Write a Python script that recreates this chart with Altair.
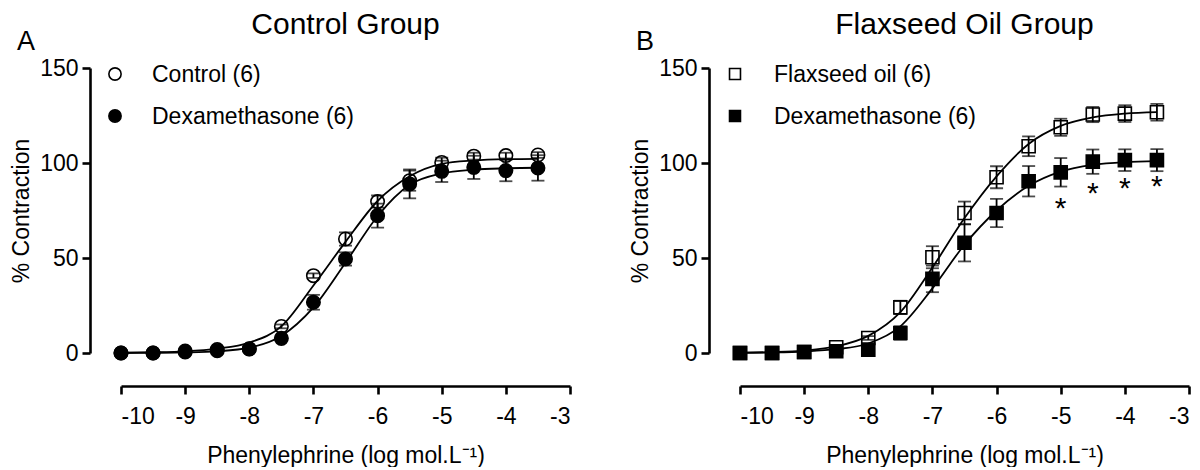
import altair as alt
import pandas as pd

FONT = "Liberation Sans"

# ---------------- data ----------------
x_dose = [-10, -9.5, -9, -8.5, -8, -7.5, -7, -6.5, -6, -5.5, -5, -4.5, -4, -3.5]

# Panel A - Control group
names_a = ["Control (6)", "Dexamethasone (6)"]
ctrl_mean = [0, 0, 1.0, 1.8, 2.2, 14.0, 40.7, 60.0, 79.7, 90.7, 100.3, 103.6, 103.9, 104.2]
ctrl_sem = [0, 0, 0, 0, 0, 1.0, 1.2, 3.5, 3.2, 5.3, 2.5, 1.8, 1.5, 1.5]
ctrl_fit = [0.2, 0.4, 0.9, 2.3, 5.5, 14.0, 35.5, 58.5, 80.0, 93.0, 99.5, 101.3, 102.0, 102.2]
dexa_mean = [0, 0, 0.5, 1.2, 2.1, 7.7, 26.7, 49.5, 72.3, 89.0, 95.6, 97.7, 96.0, 97.4]
dexa_sem = [0, 0, 0, 0, 0, 0.8, 3.9, 3.5, 6.3, 7.6, 5.6, 6.1, 5.6, 6.7]
dexa_fit = [0.0, 0.1, 0.3, 0.9, 2.8, 9.0, 24.0, 47.5, 72.0, 88.5, 94.5, 96.5, 97.2, 97.5]

# Panel B - Flaxseed oil group
names_b = ["Flaxseed oil (6)", "Dexamethasone (6)"]
flax_mean = [0, 0, 0.5, 3.0, 7.9, 24.0, 50.4, 73.7, 92.5, 108.8, 118.8, 125.5, 126.0, 126.7]
flax_sem = [0, 0, 0, 0, 1.0, 3.5, 5.8, 6.0, 5.8, 5.2, 4.5, 4.0, 4.4, 4.4]
flax_fit = [0.2, 0.5, 1.3, 3.5, 9.0, 21.5, 45.0, 71.0, 93.0, 110.0, 119.5, 124.0, 126.0, 126.8]
dexb_mean = [0, 0, 0.5, 0.9, 1.8, 10.5, 39.0, 58.0, 73.7, 90.4, 95.1, 100.7, 101.5, 101.5]
dexb_sem = [0, 0, 0, 0, 0, 3.5, 7.0, 9.8, 7.4, 8.0, 7.5, 6.4, 5.7, 5.8]
dexb_fit = [0.1, 0.3, 0.8, 2.0, 5.0, 14.0, 34.0, 57.0, 75.0, 88.0, 95.5, 99.0, 100.5, 101.0]

# significance markers in panel B
star_x = [-5, -4.5, -4, -3.5]
star_y = [78, 86, 88.6, 89.5]

x_ticks = [-10, -9, -8, -7, -6, -5, -4, -3]
y_ticks = [0, 50, 100, 150]
x_title = "Phenylephrine (log mol.L\u207b\u00b9)"
y_title = "% Contraction"

W, H = 449, 285


def frame(names, means, sems, fits):
    rows = []
    for name, m, s, f in zip(names, means, sems, fits):
        for xv, mv, sv, fv in zip(x_dose, m, s, f):
            rows.append({"x": xv, "mean": mv, "sem": sv, "fit": fv,
                         "lo": mv - sv, "hi": mv + sv, "series": name})
    return pd.DataFrame(rows)


def X():
    return alt.X("x:Q", title=x_title,
                 scale=alt.Scale(domain=[-10, -3], nice=False, zero=False),
                 axis=alt.Axis(values=x_ticks, offset=33, labelExpr="'' + datum.value",
                               labelPadding=11, titlePadding=16))


def Y(field):
    return alt.Y(field, title=y_title,
                 scale=alt.Scale(domain=[0, 150], nice=False, zero=False),
                 axis=alt.Axis(values=y_ticks, offset=31, labelPadding=4, titlePadding=6))


def panel(df, names, shape, msize, lsize, title, letter, sym_dx, txt_dx, stars=None):
    base = alt.Chart(df)
    fill = alt.Fill("series:N", scale=alt.Scale(domain=names, range=["transparent", "black"]),
                    legend=None)
    lines = base.mark_line(interpolate="monotone", color="black", strokeWidth=1.8).encode(
        x=X(), y=Y("fit:Q"), detail="series:N")
    eb = base.transform_filter("datum.sem > 0.6")
    rules = eb.mark_rule(color="black", strokeWidth=1.8).encode(
        x=X(), y=Y("lo:Q"), y2="hi:Q")
    cap_lo = eb.mark_tick(color="black", orient="horizontal", size=13, thickness=1.8).encode(
        x=X(), y=Y("lo:Q"))
    cap_hi = eb.mark_tick(color="black", orient="horizontal", size=13, thickness=1.8).encode(
        x=X(), y=Y("hi:Q"))
    pts = base.mark_point(shape=shape, size=msize, filled=True, opacity=1,
                          stroke="black", strokeWidth=1.6).encode(
        x=X(), y=Y("mean:Q"), fill=fill)
    layers = [lines, rules, cap_lo, cap_hi, pts]

    if stars is not None:
        sdf = pd.DataFrame({"x": stars[0], "sy": stars[1], "t": ["*"] * len(stars[0])})
        layers.append(alt.Chart(sdf).mark_text(font=FONT, fontSize=30, dy=4, color="black").encode(
            x=X(), y=Y("sy:Q"), text="t:N"))

    # legend built from the series names
    fills = ["transparent", "black"]
    for i, name in enumerate(names):
        ld = alt.Data(values=[{"label": name}])
        layers.append(alt.Chart(ld).mark_point(shape=shape, size=lsize, filled=True, opacity=1,
                                                stroke="black", strokeWidth=1.6,
                                                fill=fills[i]).encode(
            x=alt.value(sym_dx), y=alt.value(6 + 42 * i)))
        layers.append(alt.Chart(ld).mark_text(font=FONT, fontSize=23, align="left",
                                               baseline="alphabetic", color="black").encode(
            x=alt.value(txt_dx), y=alt.value(14 + 42 * i), text="label:N"))

    # panel title and letter
    td = alt.Data(values=[{"t": title, "l": letter}])
    layers.append(alt.Chart(td).mark_text(font=FONT, fontSize=30, align="center",
                                           baseline="alphabetic", color="black").encode(
        x=alt.value(W / 2), y=alt.value(-34), text="t:N"))
    layers.append(alt.Chart(td).mark_text(font=FONT, fontSize=27, align="left",
                                           baseline="alphabetic", color="black").encode(
        x=alt.value(-104), y=alt.value(-18), text="l:N"))

    return alt.layer(*layers).properties(width=W, height=H)


df_a = frame(names_a, [ctrl_mean, dexa_mean], [ctrl_sem, dexa_sem], [ctrl_fit, dexa_fit])
df_b = frame(names_b, [flax_mean, dexb_mean], [flax_sem, dexb_sem], [flax_fit, dexb_fit])

pa = panel(df_a, names_a, "circle", 180, 150, "Control Group", "A", -6, 31)
pb = panel(df_b, names_b, "square", 170, 120, "Flaxseed Oil Group", "B", -5, 34,
           stars=(star_x, star_y))

chart = alt.hconcat(pa, pb, spacing=170, bounds="flush").properties(
    padding={"left": 2, "top": 2, "right": 0, "bottom": 0}
).configure_view(stroke=None).configure_axis(
    labelFont=FONT, titleFont=FONT, labelFontSize=23, titleFontSize=23,
    titleFontWeight="normal", labelColor="black", titleColor="black",
    domainColor="black", tickColor="black", domainWidth=2.6, tickWidth=2.6,
    tickSize=8, grid=False
)

chart.save("out.html", embed_options={"renderer": "svg", "actions": False})
